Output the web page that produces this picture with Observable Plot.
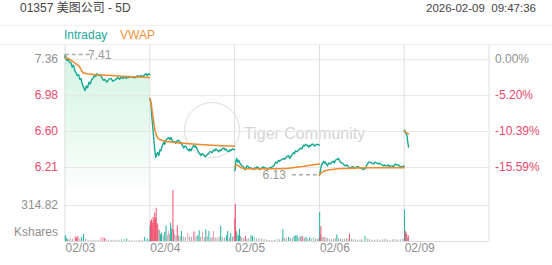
<!DOCTYPE html>
<html><head><meta charset="utf-8">
<script src="https://cdn.jsdelivr.net/npm/d3@7"></script>
<script src="https://cdn.jsdelivr.net/npm/@observablehq/plot@0.6"></script>
<style>
body{margin:0;background:#fff;font-family:"Liberation Sans",Arial,"Noto Sans CJK SC",sans-serif;}
#wrap{position:relative;width:552px;height:265px;overflow:hidden;background:#fff;}
.abs{position:absolute;white-space:pre;line-height:14px;}
</style></head><body>
<div id="wrap">
  <div class="abs" style="left:20px;top:1px;font-size:12px;color:#444;">01357 美图公司 - 5D</div>
  <div class="abs" style="right:16px;top:1px;font-size:11.5px;color:#444;">2026-02-09  09:47:36</div>
  <div class="abs" style="left:0;top:25px;width:552px;border-top:1px solid #f1f1f1"></div>
  <div class="abs" style="left:0;top:44px;width:552px;border-top:1px solid #ececec"></div>
  <div class="abs" style="left:64px;top:28px;font-size:12px;color:#1aaa9b">Intraday</div>
  <div class="abs" style="left:120px;top:28px;font-size:12px;color:#f0913c">VWAP</div>
  <div class="abs" style="left:184px;top:102px;width:54px;height:54px;border:1.5px solid #dcdcdc;border-radius:50%"></div>
  <div class="abs" style="left:244px;top:125px;font-size:16px;line-height:18px;color:#d4d4d4">Tiger Community</div>
  <div id="price" class="abs" style="left:0;top:45px"></div>
  <div id="vol" class="abs" style="left:0;top:187px"></div>
</div>
<script>
// ---------- data ----------
const days = ["02/03","02/04","02/05","02/06","02/09"];
const prevClose = 7.36;
const tickPcts = [0, -5.20, -10.39, -15.59];
const volTick = 314.82;

const intra1 = [["09:30",7.38],["09:31",7.41],["09:34",7.37],["09:38",7.35],["09:43",7.36],["09:48",7.33],["09:53",7.33],["09:58",7.28],["10:03",7.30],["10:08",7.24],["10:13",7.22],["10:18",7.19],["10:23",7.20],["10:28",7.15],["10:32",7.16],["10:37",7.10],["10:42",7.07],["10:48",7.03],["10:53",7.08],["10:58",7.06],["11:03",7.12],["11:08",7.10],["11:14",7.15],["11:19",7.16],["11:24",7.19],["11:29",7.18],["11:34",7.21],["11:40",7.19],["11:45",7.20],["11:50",7.19],["11:55",7.16],["12:00",7.14],["13:05",7.15],["13:13",7.12],["13:20",7.15],["13:29",7.16],["13:36",7.13],["13:48",7.15],["13:55",7.17],["14:02",7.15],["14:08",7.17],["14:15",7.16],["14:22",7.18],["14:27",7.16],["14:35",7.17],["14:47",7.18],["14:55",7.17],["15:06",7.17],["15:12",7.19],["15:20",7.18],["15:26",7.19],["15:33",7.18],["15:40",7.20],["15:45",7.21],["15:50",7.19],["15:55",7.21],["16:00",7.20]];
const intra2 = [["09:30",6.94],["09:34",6.90],["09:38",6.75],["09:42",6.63],["09:46",6.50],["09:50",6.38],["09:53",6.32],["09:57",6.35],["10:01",6.37],["10:05",6.34],["10:09",6.40],["10:13",6.39],["10:18",6.44],["10:24",6.48],["10:28",6.46],["10:32",6.50],["10:38",6.52],["10:44",6.53],["10:48",6.51],["10:52",6.53],["10:57",6.50],["11:03",6.48],["11:07",6.49],["11:11",6.47],["11:17",6.50],["11:23",6.50],["11:27",6.47],["11:31",6.48],["11:36",6.45],["11:42",6.42],["11:46",6.44],["11:50",6.44],["11:55",6.41],["12:00",6.40],["13:02",6.39],["13:06",6.41],["13:10",6.39],["13:15",6.42],["13:21",6.45],["13:25",6.43],["13:29",6.44],["13:35",6.40],["13:41",6.37],["13:45",6.36],["13:48",6.34],["13:54",6.36],["14:00",6.35],["14:04",6.33],["14:08",6.33],["14:13",6.35],["14:19",6.36],["14:23",6.38],["14:27",6.38],["14:33",6.37],["14:39",6.40],["14:43",6.39],["14:47",6.41],["14:52",6.40],["14:58",6.38],["15:02",6.40],["15:06",6.39],["15:12",6.41],["15:18",6.42],["15:22",6.40],["15:26",6.41],["15:31",6.39],["15:37",6.38],["15:41",6.40],["15:45",6.39],["15:52",6.41],["16:00",6.40]];
const intra3 = [["09:30",6.18],["09:32",6.19],["09:35",6.28],["09:38",6.31],["09:42",6.27],["09:46",6.29],["09:50",6.26],["09:53",6.25],["09:58",6.23],["10:05",6.22],["10:09",6.19],["10:13",6.20],["10:18",6.23],["10:24",6.22],["10:28",6.20],["10:32",6.21],["10:38",6.20],["10:44",6.19],["10:48",6.21],["10:52",6.20],["10:58",6.22],["11:03",6.21],["11:07",6.19],["11:11",6.20],["11:17",6.21],["11:23",6.22],["11:27",6.20],["11:31",6.21],["11:37",6.19],["11:42",6.20],["11:46",6.21],["11:50",6.21],["11:56",6.22],["13:02",6.23],["13:06",6.25],["13:10",6.27],["13:15",6.26],["13:21",6.29],["13:25",6.28],["13:29",6.29],["13:35",6.30],["13:41",6.31],["13:45",6.30],["13:48",6.31],["13:54",6.33],["14:00",6.34],["14:04",6.31],["14:08",6.32],["14:13",6.35],["14:19",6.37],["14:23",6.36],["14:27",6.39],["14:33",6.38],["14:39",6.40],["14:43",6.41],["14:47",6.42],["14:52",6.41],["14:58",6.45],["15:02",6.44],["15:06",6.46],["15:12",6.45],["15:18",6.43],["15:22",6.45],["15:26",6.44],["15:31",6.46],["15:37",6.46],["15:41",6.44],["15:45",6.45],["15:52",6.46],["16:00",6.45]];
const intra4 = [["09:30",6.13],["09:32",6.15],["09:36",6.21],["09:39",6.25],["09:42",6.25],["09:46",6.28],["09:50",6.26],["09:53",6.27],["09:57",6.25],["10:01",6.23],["10:06",6.26],["10:13",6.25],["10:18",6.27],["10:24",6.28],["10:28",6.26],["10:32",6.29],["10:38",6.30],["10:44",6.31],["10:48",6.29],["10:52",6.27],["10:58",6.26],["11:03",6.25],["11:07",6.24],["11:11",6.23],["11:17",6.24],["11:23",6.22],["11:27",6.21],["11:31",6.21],["11:37",6.22],["11:42",6.22],["11:46",6.20],["11:50",6.21],["11:56",6.22],["13:02",6.22],["13:06",6.21],["13:10",6.21],["13:15",6.20],["13:21",6.19],["13:25",6.20],["13:29",6.20],["13:33",6.23],["13:37",6.25],["13:42",6.27],["13:48",6.27],["13:54",6.26],["14:00",6.25],["14:04",6.26],["14:08",6.27],["14:13",6.26],["14:19",6.25],["14:23",6.26],["14:27",6.25],["14:33",6.24],["14:39",6.23],["14:43",6.24],["14:47",6.23],["14:52",6.23],["14:58",6.24],["15:02",6.22],["15:06",6.23],["15:12",6.23],["15:18",6.22],["15:22",6.24],["15:26",6.25],["15:31",6.24],["15:37",6.24],["15:41",6.23],["15:45",6.22],["15:52",6.22],["16:00",6.23]];
const intra5 = [["09:30",6.60],["09:32",6.61],["09:35",6.58],["09:38",6.57],["09:41",6.55],["09:44",6.48],["09:47",6.43]];

const vwap1 = [["09:30",7.38],["09:45",7.37],["09:55",7.35],["10:05",7.33],["10:15",7.31],["10:25",7.29],["10:33",7.25],["10:40",7.22],["10:55",7.21],["11:30",7.20],["13:30",7.19],["14:30",7.18],["16:00",7.17]];
const vwap2 = [["09:30",6.95],["09:35",6.90],["09:40",6.80],["09:45",6.70],["09:50",6.61],["09:55",6.56],["10:00",6.53],["10:08",6.51],["10:20",6.50],["10:35",6.49],["11:00",6.48],["11:40",6.47],["13:30",6.46],["14:30",6.45],["15:30",6.44],["16:00",6.44]];
const vwap3 = [["09:30",6.22],["09:38",6.24],["09:46",6.23],["09:55",6.21],["10:15",6.20],["11:00",6.20],["12:00",6.20],["13:30",6.20],["14:00",6.205],["14:30",6.215],["15:00",6.225],["15:30",6.24],["16:00",6.25]];
const vwap4 = [["09:30",6.13],["09:35",6.15],["09:45",6.17],["09:55",6.18],["10:13",6.19],["10:40",6.20],["11:30",6.205],["13:30",6.21],["14:30",6.21],["16:00",6.21]];
const vwap5 = [["09:30",6.60],["09:35",6.59],["09:40",6.58],["09:47",6.57]];

// volume (K shares): [time, volume, colour class]
const vol1 = [["09:31",52,"g"],["09:35",30,"g"],["09:40",18,"n"],["09:45",15,"n"],["09:52",25,"p"],["10:00",20,"n"],["10:10",40,"r"],["10:15",30,"r"],["10:20",44,"r"],["10:28",22,"n"],["10:35",35,"g"],["10:42",61,"g"],["10:50",20,"n"],["11:00",12,"n"],["11:10",8,"n"],["11:20",10,"n"],["11:30",8,"n"],["11:40",10,"n"],["11:50",30,"p"],["11:57",35,"p"],["13:03",28,"r"],["13:10",20,"n"],["13:20",10,"n"],["13:30",8,"n"],["13:40",12,"n"],["13:50",6,"n"],["14:00",10,"n"],["14:10",15,"l"],["14:20",18,"l"],["14:30",22,"g"],["14:40",8,"n"],["14:50",5,"n"],["15:00",6,"n"],["15:10",5,"n"],["15:20",8,"n"],["15:30",12,"n"],["15:40",35,"g"],["15:50",20,"g"],["15:58",15,"g"]];
const vol2 = [["09:31",131,"g"],["09:33",175,"r"],["09:35",140,"r"],["09:37",190,"r"],["09:40",160,"r"],["09:43",210,"r"],["09:46",180,"r"],["09:49",248,"r"],["09:52",200,"r"],["09:55",291,"r"],["09:58",160,"r"],["10:01",146,"r"],["10:05",102,"n"],["10:08",95,"n"],["10:12",60,"g"],["10:16",73,"g"],["10:22",50,"n"],["10:28",80,"g"],["10:33",137,"g"],["10:38",50,"n"],["10:42",87,"p"],["10:46",60,"n"],["10:51",160,"g"],["10:55",110,"g"],["11:00",446,"r"],["11:03",100,"r"],["11:07",60,"n"],["11:12",45,"n"],["11:17",137,"r"],["11:22",50,"n"],["11:28",40,"n"],["11:33",87,"g"],["11:40",40,"n"],["11:48",35,"n"],["11:58",70,"p"],["13:05",40,"n"],["13:12",35,"n"],["13:20",87,"p"],["13:25",80,"p"],["13:30",40,"n"],["13:37",50,"g"],["13:42",93,"g"],["13:48",35,"n"],["13:55",80,"p"],["14:02",35,"n"],["14:08",102,"g"],["14:14",40,"n"],["14:20",87,"g"],["14:27",30,"n"],["14:33",35,"n"],["14:38",87,"p"],["14:45",30,"n"],["14:52",30,"n"],["15:00",40,"n"],["15:06",131,"g"],["15:12",35,"n"],["15:20",30,"n"],["15:28",50,"g"],["15:33",87,"g"],["15:40",30,"n"],["15:45",70,"g"],["15:52",40,"n"],["15:58",45,"n"]];
const vol3 = [["09:31",200,"r"],["09:33",325,"r"],["09:36",90,"r"],["09:39",73,"g"],["09:45",50,"g"],["09:49",108,"g"],["09:53",45,"n"],["09:58",30,"n"],["10:05",25,"n"],["10:12",44,"r"],["10:18",20,"n"],["10:25",25,"n"],["10:34",50,"g"],["10:40",45,"g"],["10:47",35,"l"],["10:55",20,"n"],["11:05",25,"n"],["11:15",22,"n"],["11:25",18,"n"],["11:35",12,"n"],["11:45",10,"n"],["11:55",8,"n"],["13:05",8,"n"],["13:15",22,"l"],["13:25",15,"n"],["13:35",25,"n"],["13:38",102,"g"],["13:45",30,"n"],["13:52",20,"n"],["14:00",35,"g"],["14:08",25,"n"],["14:15",30,"n"],["14:22",45,"g"],["14:28",50,"g"],["14:33",50,"g"],["14:38",30,"n"],["14:45",40,"g"],["14:50",45,"p"],["14:55",40,"r"],["15:02",25,"n"],["15:08",35,"g"],["15:15",20,"n"],["15:22",30,"g"],["15:30",22,"n"],["15:38",35,"l"],["15:45",20,"n"],["15:52",18,"n"],["15:58",25,"n"]];
const vol4 = [["09:31",254,"g"],["09:33",60,"r"],["09:36",131,"r"],["09:40",40,"n"],["09:45",35,"n"],["09:50",35,"p"],["09:56",30,"n"],["10:02",25,"n"],["10:10",20,"n"],["10:17",15,"n"],["10:25",22,"n"],["10:32",25,"n"],["10:38",58,"g"],["10:45",25,"n"],["10:52",20,"n"],["11:00",22,"n"],["11:08",18,"n"],["11:15",25,"n"],["11:22",20,"n"],["11:27",64,"r"],["11:35",20,"n"],["11:42",15,"n"],["11:50",15,"n"],["11:58",10,"n"],["13:08",12,"n"],["13:15",15,"n"],["13:25",44,"l"],["13:30",40,"l"],["13:38",20,"n"],["13:45",15,"n"],["13:55",10,"n"],["14:05",12,"n"],["14:15",15,"n"],["14:25",10,"n"],["14:35",15,"n"],["14:45",20,"n"],["14:55",12,"n"],["15:05",10,"n"],["15:15",15,"n"],["15:25",18,"n"],["15:35",12,"n"],["15:45",15,"n"],["15:55",20,"n"]];
const vol5 = [["09:31",277,"g"],["09:34",90,"r"],["09:37",75,"r"],["09:40",60,"r"],["09:43",30,"n"],["09:46",50,"r"]];

// ---------- helpers ----------
function tIndex(day, hhmm) {
  const [h, m] = hhmm.split(":").map(Number);
  const mins = h * 60 + m;
  const off = mins <= 720 ? mins - 570 : 150 + (mins - 780);
  return day * 330 + off;
}
const toRows = (list) => list.flatMap((arr, d) => arr.map(([tm, p]) => ({day: d, t: tIndex(d, tm), p})));
const intraday = toRows([intra1, intra2, intra3, intra4, intra5]);
const vwap = toRows([vwap1, vwap2, vwap3, vwap4, vwap5]);
const day1Rows = intraday.filter(d => d.day === 0);
const volume = [vol1, vol2, vol3, vol4, vol5].flatMap((arr, d) => arr.map(([tm, v, c]) => ({t: tIndex(d, tm), v, c})));
const volColor = {r: "#f0506f", p: "#f59bb0", g: "#1bb3a0", l: "#86d6c9", n: "#a9a9a9"};
const bounds = d3.range(0, 6).map(i => i * 330);
const tickPrices = tickPcts.map(p => prevClose * (1 + p / 100));
const maxPt = d3.greatest(intraday, d => d.p);
const minPt = d3.least(intraday, d => d.p);

const GRAY = "#8f8f8f", RED = "#e8476c", GRID = "#e8e8e8";
const font = {fontFamily: "'Liberation Sans', Arial, sans-serif", fontSize: "12px", background: "transparent", overflow: "visible"};
const xOpts = {type: "linear", domain: [0, 1650]};

function extremes(index, scales) {
  const g = d3.create("svg:g").attr("font-size", 12).attr("fill", "#999");
  const mx = scales.x(maxPt.t), my = scales.y(maxPt.p);
  g.append("line").attr("x1", mx).attr("x2", mx + 29).attr("y1", my).attr("y2", my)
    .attr("stroke", "#aaa").attr("stroke-width", 1.5).attr("stroke-dasharray", "4,3");
  g.append("text").attr("x", mx + 35).attr("y", my).attr("dy", "0.35em").text(maxPt.p.toFixed(2));
  const nx = scales.x(minPt.t), ny = scales.y(minPt.p);
  g.append("line").attr("x1", nx - 27).attr("x2", nx).attr("y1", ny).attr("y2", ny)
    .attr("stroke", "#aaa").attr("stroke-width", 1.5).attr("stroke-dasharray", "4,3");
  g.append("text").attr("x", nx - 33).attr("y", ny).attr("dy", "0.35em").attr("text-anchor", "end").text(minPt.p.toFixed(2));
  return g.node();
}

// ---------- price panel ----------
const price = Plot.plot({
  width: 552, height: 142,
  marginLeft: 64.5, marginRight: 63.5, marginTop: 0, marginBottom: 0,
  style: font,
  x: {...xOpts, axis: null},
  y: {domain: [6.0, 7.51], axis: null},
  marks: [
    Plot.areaY(day1Rows, {x: "t", y1: 6.0, y2: "p", fill: "url(#mintGrad)", curve: "linear"}),
    Plot.ruleY(tickPrices, {stroke: GRID}),
    Plot.ruleX(bounds, {stroke: "#dedede"}),
    Plot.line(intraday, {x: "t", y: "p", z: "day", stroke: "#15a893", strokeWidth: 1.4}),
    Plot.line(vwap, {x: "t", y: "p", z: "day", stroke: "#f08a2c", strokeWidth: 1.5}),
    extremes,
    Plot.text(tickPrices, {y: d => d, frameAnchor: "left", dx: -7, textAnchor: "end",
      text: d => d.toFixed(2), fill: (d, i) => i === 0 ? GRAY : RED}),
    Plot.text(tickPcts, {y: (d) => prevClose * (1 + d / 100), frameAnchor: "right", dx: 6, textAnchor: "start",
      text: d => d.toFixed(2) + "%", fill: (d, i) => i === 0 ? GRAY : RED})
  ]
});
d3.select(price).insert("defs", ":first-child").html(
  '<linearGradient id="mintGrad" x1="0" y1="0" x2="0" y2="1">' +
  '<stop offset="0%" stop-color="#d5f5e5"/><stop offset="60%" stop-color="#e9faf1"/><stop offset="100%" stop-color="#fbfefc"/></linearGradient>');
document.getElementById("price").appendChild(price);

// ---------- volume panel ----------
const vol = Plot.plot({
  width: 552, height: 78,
  marginLeft: 64.5, marginRight: 63.5, marginTop: 0, marginBottom: 24,
  style: font,
  x: {...xOpts, axis: null},
  y: {domain: [0, 472.2], axis: null},
  marks: [
    Plot.ruleY([volTick], {stroke: GRID}),
    Plot.ruleX(bounds, {stroke: "#dedede"}),
    Plot.ruleX(volume, {x: "t", y1: 0, y2: "v", stroke: d => volColor[d.c], strokeWidth: 1}),
    Plot.ruleY([0], {stroke: "#dcdcdc"}),
    Plot.text([volTick], {y: d => d, frameAnchor: "left", dx: -7, textAnchor: "end", text: d => d.toFixed(2), fill: GRAY}),
    Plot.text(["Kshares"], {frameAnchor: "bottom-left", dx: -7, dy: -5.5, textAnchor: "end", text: d => d, fill: GRAY}),
    Plot.text(days, {x: (d, i) => i * 330, frameAnchor: "bottom", dy: 10.5, dx: 0.5, textAnchor: "start", text: d => d, fill: GRAY})
  ]
});
document.getElementById("vol").appendChild(vol);
</script>
</body></html>
